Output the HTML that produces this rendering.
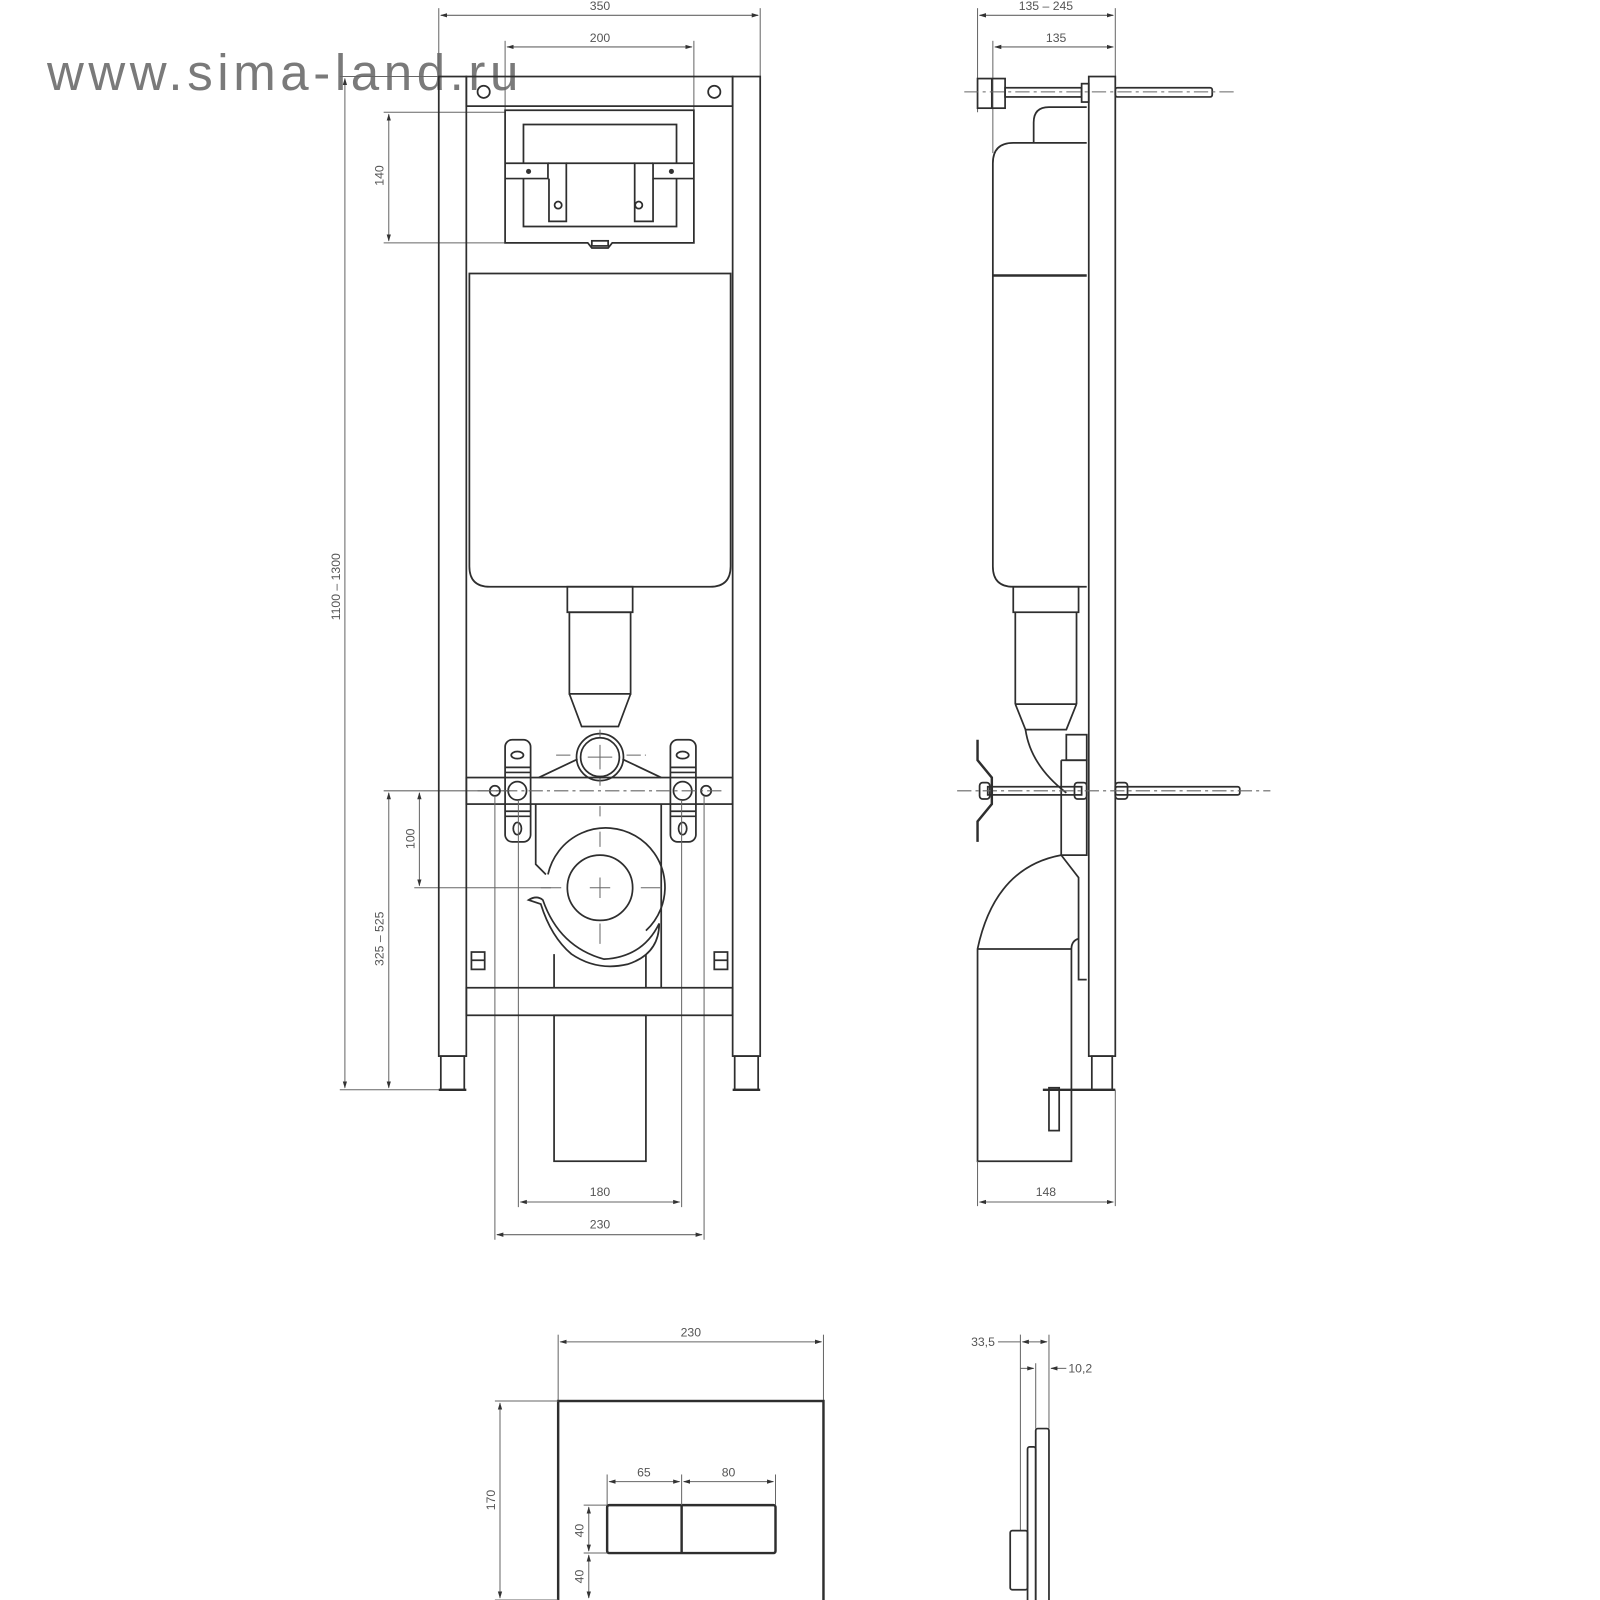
<!DOCTYPE html>
<html><head><meta charset="utf-8"><style>
html,body{margin:0;padding:0;background:#fff;width:1600px;height:1600px;overflow:hidden}
svg{display:block}
.s{fill:none;stroke:#2e2e2e;stroke-width:1.7}
.t{fill:none;stroke:#2e2e2e;stroke-width:2.4}
.d{fill:none;stroke:#666;stroke-width:1}
.c{fill:none;stroke:#666;stroke-width:1;stroke-dasharray:14 4 3 4}
text{font-family:"Liberation Sans",sans-serif;font-size:12px;fill:#555}
</style></head><body>
<svg width="1600" height="1600" viewBox="0 0 1600 1600" xmlns="http://www.w3.org/2000/svg">
<defs>
<marker id="a" viewBox="0 0 10 10" refX="9" refY="5" markerWidth="7" markerHeight="7" orient="auto-start-reverse"><path d="M0,2 L10,5 L0,8 Z" fill="#333"/></marker>
</defs>
<g transform="scale(1.0204)">
<text x="46" y="88" style="font-size:50px;letter-spacing:4.5px;fill:#7a7a7a">www.sima-land.ru</text>

<!-- FRONT VIEW -->
<line class="d" x1="430" y1="8" x2="430" y2="75"/><line class="d" x1="745" y1="8" x2="745" y2="75"/>
<line class="d" x1="432" y1="15" x2="743" y2="15" marker-start="url(#a)" marker-end="url(#a)"/>
<text x="588" y="10" text-anchor="middle">350</text>
<line class="d" x1="495" y1="40" x2="495" y2="110"/><line class="d" x1="680" y1="40" x2="680" y2="110"/>
<line class="d" x1="497" y1="46" x2="678" y2="46" marker-start="url(#a)" marker-end="url(#a)"/>
<text x="588" y="41" text-anchor="middle">200</text>

<line class="d" x1="333" y1="75" x2="430" y2="75"/>
<line class="d" x1="333" y1="1068" x2="455" y2="1068"/>
<line class="d" x1="338" y1="77" x2="338" y2="1066" marker-start="url(#a)" marker-end="url(#a)"/>
<text transform="translate(333,575) rotate(-90)" text-anchor="middle">1100 – 1300</text>
<line class="d" x1="376" y1="110" x2="495" y2="110"/><line class="d" x1="376" y1="238" x2="495" y2="238"/>
<line class="d" x1="381" y1="112" x2="381" y2="236" marker-start="url(#a)" marker-end="url(#a)"/>
<text transform="translate(376,172) rotate(-90)" text-anchor="middle">140</text>
<line class="d" x1="376" y1="775" x2="500" y2="775"/>
<line class="d" x1="381" y1="777" x2="381" y2="1066" marker-start="url(#a)" marker-end="url(#a)"/>
<text transform="translate(376,920) rotate(-90)" text-anchor="middle">325 – 525</text>
<line class="d" x1="406" y1="870" x2="540" y2="870"/>
<line class="d" x1="411" y1="777" x2="411" y2="868" marker-start="url(#a)" marker-end="url(#a)"/>
<text transform="translate(406,822) rotate(-90)" text-anchor="middle">100</text>

<rect class="s" x="430" y="75" width="27" height="960"/>
<rect class="s" x="718" y="75" width="27" height="960"/>
<rect class="s" x="432" y="1035" width="23" height="33"/>
<rect class="s" x="720" y="1035" width="23" height="33"/>
<line class="t" x1="430" y1="1068" x2="457" y2="1068"/><line class="t" x1="718" y1="1068" x2="745" y2="1068"/>
<rect class="s" x="457" y="75" width="261" height="29"/>
<circle class="s" cx="474" cy="90" r="6"/><circle class="s" cx="700" cy="90" r="6"/>
<path class="s" d="M495,108 H680 V238 H600 L596,243 H580 L576,238 H495 Z"/>
<rect class="s" x="580" y="236" width="16" height="5"/>
<path class="s" d="M513,160 V122 H663 V160"/>
<path class="s" d="M513,175 V222 H663 V175"/>
<path class="s" d="M495,160 H537 V175 H495"/><path class="s" d="M680,160 H640 V175 H680"/>
<path class="s" d="M537,160 H555 V217 H538 V175"/><path class="s" d="M640,175 V217 H622 V160 H640"/>
<path class="s" d="M555,160 H622"/>
<circle cx="518" cy="168" r="2.5" fill="#333"/><circle cx="658" cy="168" r="2.5" fill="#333"/>
<circle class="s" cx="547" cy="201" r="3.5"/><circle class="s" cx="626" cy="201" r="3.5"/>
<path class="s" d="M460,268 H716 V555 Q716,575 696,575 H480 Q460,575 460,555 Z"/>
<rect class="s" x="556" y="575" width="64" height="25"/>
<rect class="s" x="558" y="600" width="60" height="80"/>
<path class="s" d="M558,680 L570,712 H606 L618,680"/>
<circle class="s" cx="588" cy="742" r="23"/><circle class="s" cx="588" cy="742" r="19"/>
<path class="d" d="M576,742 H600 M588,730 V754 M588,715 V722 M588,762 V770 M588,790 V800"/>
<path class="s" d="M528,762 L566,744 M648,762 L610,744"/>
<path class="c" d="M545,740 H562 M614,740 H633"/>
<rect class="s" x="457" y="762" width="261" height="26"/>
<rect class="s" x="495" y="725" width="25" height="100" rx="7"/>
<rect class="s" x="657" y="725" width="25" height="100" rx="7"/>
<ellipse class="s" cx="507" cy="740" rx="6" ry="3.5"/><ellipse class="s" cx="669" cy="740" rx="6" ry="3.5"/>
<path class="s" d="M495,752 H520 M495,757 H520 M657,752 H682 M657,757 H682 M495,795 H520 M495,800 H520 M657,795 H682 M657,800 H682"/>
<ellipse class="s" cx="507" cy="812" rx="4" ry="6"/><ellipse class="s" cx="669" cy="812" rx="4" ry="6"/>
<circle class="s" cx="485" cy="775" r="5"/><circle class="s" cx="507" cy="775" r="9"/>
<circle class="s" cx="669" cy="775" r="9"/><circle class="s" cx="692" cy="775" r="5"/>
<line class="c" x1="468" y1="775" x2="710" y2="775"/>
<line class="d" x1="485" y1="780" x2="485" y2="1215"/><line class="d" x1="690" y1="780" x2="690" y2="1215"/>
<line class="d" x1="508" y1="784" x2="508" y2="1183"/><line class="d" x1="668" y1="784" x2="668" y2="1183"/>
<path class="s" d="M525,788 V847 L535,857"/>
<path class="s" d="M648,788 V968"/>
<path class="s" d="M537,857 A58,58 0 1 1 633,912"/>
<path class="s" d="M518,882 Q526,877 532,882 Q548,928 592,940 Q630,938 646,905 Q646,935 615,945 Q585,952 560,935 Q540,918 530,886 Z"/>
<circle class="s" cx="588" cy="870" r="32"/>
<path class="d" d="M578,870 H598 M588,860 V880 M588,815 V830 M588,905 V925 M530,870 H550 M628,870 H648"/>
<path class="s" d="M543,935 V968 M633,935 V968"/>
<rect class="s" x="462" y="933" width="13" height="17"/><rect class="s" x="700" y="933" width="13" height="17"/>
<path class="s" d="M462,941 H475 M700,941 H713"/>
<rect class="s" x="457" y="968" width="261" height="27"/>
<rect class="s" x="543" y="995" width="90" height="143"/>
<line class="d" x1="510" y1="1178" x2="666" y2="1178" marker-start="url(#a)" marker-end="url(#a)"/>
<text x="588" y="1172" text-anchor="middle">180</text>
<line class="d" x1="487" y1="1210" x2="688" y2="1210" marker-start="url(#a)" marker-end="url(#a)"/>
<text x="588" y="1204" text-anchor="middle">230</text>

<!-- SIDE VIEW -->
<line class="d" x1="958" y1="8" x2="958" y2="110"/><line class="d" x1="1093" y1="8" x2="1093" y2="75"/>
<line class="d" x1="973" y1="40" x2="973" y2="150"/>
<line class="d" x1="960" y1="15" x2="1091" y2="15" marker-start="url(#a)" marker-end="url(#a)"/>
<text x="1025" y="10" text-anchor="middle">135 – 245</text>
<line class="d" x1="975" y1="46" x2="1091" y2="46" marker-start="url(#a)" marker-end="url(#a)"/>
<text x="1035" y="41" text-anchor="middle">135</text>
<rect class="s" x="1067" y="75" width="26" height="960"/>
<rect class="s" x="1070" y="1035" width="20" height="33"/>
<rect class="s" x="958" y="77" width="27" height="29"/>
<line class="s" x1="972" y1="77" x2="972" y2="106"/>
<rect class="s" x="985" y="86" width="75" height="9"/>
<rect class="s" x="1060" y="82" width="7" height="18"/>
<rect class="s" x="1093" y="86" width="95" height="9" rx="2"/>
<line class="c" x1="945" y1="90" x2="1210" y2="90"/>
<path class="s" d="M1013,140 V120 Q1013,105 1028,105 H1065"/>
<path class="s" d="M1065,140 H993 Q973,140 973,160 V555 Q973,575 993,575 H1065"/>
<line class="t" x1="973" y1="270" x2="1065" y2="270"/>
<rect class="s" x="993" y="575" width="64" height="25"/>
<path class="s" d="M995,600 V690 M1055,600 V690 M995,690 H1055"/>
<path class="s" d="M995,690 L1005,715 H1045 L1055,690"/>
<path class="s" d="M1005,715 Q1010,750 1045,777"/>
<rect class="s" x="1045" y="720" width="20" height="25"/>
<path class="s" d="M1040,745 H1065 V838 H1040 V745"/>
<rect class="s" x="968" y="771" width="92" height="8"/>
<rect class="s" x="1093" y="771" width="122" height="8" rx="2"/>
<rect class="s" x="960" y="767" width="10" height="16" rx="3"/>
<rect class="s" x="1053" y="767" width="12" height="16" rx="3"/><rect class="s" x="1093" y="767" width="12" height="16" rx="3"/>
<line class="c" x1="938" y1="775" x2="1245" y2="775"/>
<path class="t" d="M958,725 V745 L972,762 V788 L958,805 V825"/>
<path class="s" d="M1040,838 Q975,850 958,930 V1138 H1050 V930"/>
<line class="s" x1="958" y1="930" x2="1050" y2="930"/>
<path class="s" d="M1050,930 Q1050,922 1057,920"/>
<path class="s" d="M1040,838 L1057,860 V960 H1065"/>
<rect class="s" x="1028" y="1066" width="10" height="42"/>
<line class="t" x1="1022" y1="1068" x2="1093" y2="1068"/>
<line class="d" x1="958" y1="1138" x2="958" y2="1182"/><line class="d" x1="1093" y1="1068" x2="1093" y2="1182"/>
<line class="d" x1="960" y1="1178" x2="1091" y2="1178" marker-start="url(#a)" marker-end="url(#a)"/>
<text x="1025" y="1172" text-anchor="middle">148</text>

<!-- FLUSH PLATE FRONT -->
<line class="d" x1="547" y1="1308" x2="547" y2="1373"/><line class="d" x1="807" y1="1308" x2="807" y2="1373"/>
<line class="d" x1="549" y1="1315" x2="805" y2="1315" marker-start="url(#a)" marker-end="url(#a)"/>
<text x="677" y="1310" text-anchor="middle">230</text>
<rect class="t" x="547" y="1373" width="260" height="220"/>
<line class="d" x1="485" y1="1373" x2="547" y2="1373"/><line class="d" x1="485" y1="1568" x2="547" y2="1568"/>
<line class="d" x1="490" y1="1375" x2="490" y2="1566" marker-start="url(#a)" marker-end="url(#a)"/>
<text transform="translate(485,1470) rotate(-90)" text-anchor="middle">170</text>
<rect class="t" x="595" y="1475" width="165" height="47" rx="2"/>
<line class="t" x1="668" y1="1475" x2="668" y2="1522"/>
<line class="d" x1="595" y1="1445" x2="595" y2="1475"/><line class="d" x1="760" y1="1445" x2="760" y2="1475"/><line class="d" x1="668" y1="1445" x2="668" y2="1475"/>
<line class="d" x1="597" y1="1452" x2="666" y2="1452" marker-start="url(#a)" marker-end="url(#a)"/>
<line class="d" x1="670" y1="1452" x2="758" y2="1452" marker-start="url(#a)" marker-end="url(#a)"/>
<text x="631" y="1447" text-anchor="middle">65</text><text x="714" y="1447" text-anchor="middle">80</text>
<line class="d" x1="572" y1="1475" x2="595" y2="1475"/><line class="d" x1="572" y1="1522" x2="595" y2="1522"/>
<line class="d" x1="577" y1="1477" x2="577" y2="1520" marker-start="url(#a)" marker-end="url(#a)"/>
<line class="d" x1="577" y1="1524" x2="577" y2="1566" marker-start="url(#a)" marker-end="url(#a)"/>
<text transform="translate(572,1500) rotate(-90)" text-anchor="middle">40</text>
<text transform="translate(572,1545) rotate(-90)" text-anchor="middle">40</text>

<!-- FLUSH PLATE SIDE -->
<line class="d" x1="1000" y1="1308" x2="1000" y2="1500"/><line class="d" x1="1028" y1="1308" x2="1028" y2="1400"/>
<line class="d" x1="1015" y1="1336" x2="1015" y2="1400"/>
<line class="d" x1="978" y1="1315" x2="1000" y2="1315"/>
<line class="d" x1="1002" y1="1315" x2="1026" y2="1315" marker-start="url(#a)" marker-end="url(#a)"/>
<text x="975" y="1319" text-anchor="end">33,5</text>
<line class="d" x1="1000" y1="1341" x2="1013" y2="1341" marker-end="url(#a)"/>
<line class="d" x1="1045" y1="1341" x2="1030" y2="1341" marker-end="url(#a)"/>
<text x="1047" y="1345">10,2</text>
<rect class="s" x="1015" y="1400" width="13" height="200" rx="2"/>
<rect class="s" x="1007" y="1418" width="8" height="180" rx="2"/>
<rect class="s" x="990" y="1500" width="17" height="58" rx="2"/>
</g>
</svg>
</body></html>
